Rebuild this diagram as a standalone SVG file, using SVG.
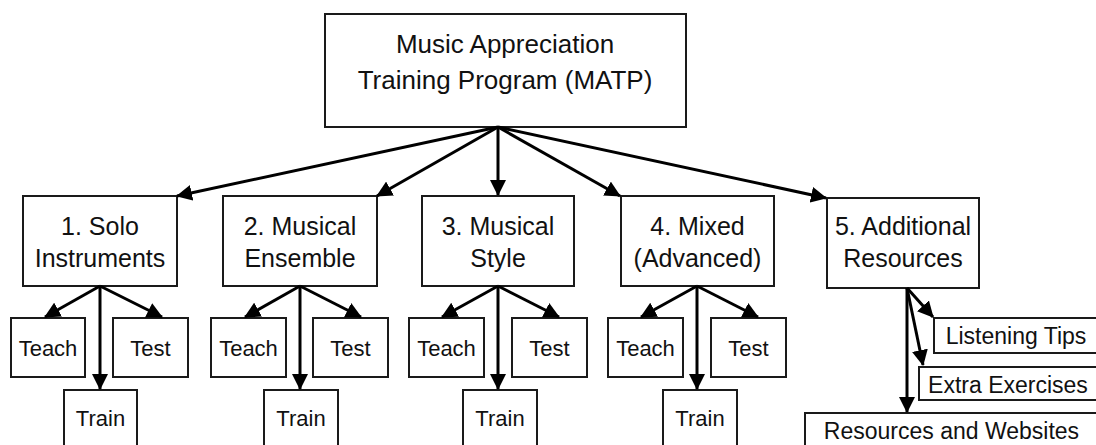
<svg xmlns="http://www.w3.org/2000/svg" width="1096" height="445" viewBox="0 0 1096 445">
<style>
.box{fill:#fff;stroke:#1a1a1a;stroke-width:2}
.t0{font-family:"Liberation Sans",Arial,sans-serif;font-size:26px;fill:#111;text-anchor:middle}
.t1{font-family:"Liberation Sans",Arial,sans-serif;font-size:25px;fill:#111;text-anchor:middle}
.t2{font-family:"Liberation Sans",Arial,sans-serif;font-size:22px;fill:#111;text-anchor:middle}
.t3{font-family:"Liberation Sans",Arial,sans-serif;font-size:23px;fill:#111;text-anchor:middle}
.c line{stroke:#000;stroke-width:3;marker-end:url(#ah)}
</style>
<defs>
<marker id="ah" markerUnits="userSpaceOnUse" markerWidth="16" markerHeight="16" refX="15" refY="8" orient="auto">
<path d="M0,0 L16,8 L0,16 z" fill="#000"/>
</marker>
</defs>
<rect width="1096" height="445" fill="#fff"/>
<g id="root"><rect class="box" x="325" y="14" width="361" height="113"/><text class="t0" x="505" y="53">Music Appreciation</text><text class="t0" x="505" y="89">Training Program (MATP)</text></g>
<g id="n1"><rect class="box" x="23" y="196" width="154" height="90"/><text class="t1" x="100" y="235">1. Solo</text><text class="t1" x="100" y="267">Instruments</text></g>
<g id="n2"><rect class="box" x="223" y="196" width="154" height="90"/><text class="t1" x="300" y="235">2. Musical</text><text class="t1" x="300" y="267">Ensemble</text></g>
<g id="n3"><rect class="box" x="422" y="196" width="152" height="90"/><text class="t1" x="498" y="235">3. Musical</text><text class="t1" x="498" y="267">Style</text></g>
<g id="n4"><rect class="box" x="621" y="196" width="153" height="90"/><text class="t1" x="697.5" y="235">4. Mixed</text><text class="t1" x="697.5" y="267">(Advanced)</text></g>
<g id="n5"><rect class="box" x="827" y="198" width="152" height="90"/><text class="t1" x="903" y="235">5. Additional</text><text class="t1" x="903" y="267">Resources</text></g>
<g id="n1a"><rect class="box" x="11" y="318" width="74" height="59"/><text class="t2" x="48" y="356">Teach</text></g>
<g id="n1b"><rect class="box" x="113" y="318" width="75" height="59"/><text class="t2" x="150.5" y="356">Test</text></g>
<g id="n1c"><rect class="box" x="64" y="390" width="73" height="62"/><text class="t2" x="100.5" y="426">Train</text></g>
<g id="n2a"><rect class="box" x="211" y="318" width="75" height="59"/><text class="t2" x="248.5" y="356">Teach</text></g>
<g id="n2b"><rect class="box" x="313" y="318" width="75" height="59"/><text class="t2" x="350.5" y="356">Test</text></g>
<g id="n2c"><rect class="box" x="264" y="390" width="74" height="62"/><text class="t2" x="301" y="426">Train</text></g>
<g id="n3a"><rect class="box" x="409" y="318" width="75" height="59"/><text class="t2" x="446.5" y="356">Teach</text></g>
<g id="n3b"><rect class="box" x="512" y="318" width="75" height="59"/><text class="t2" x="549.5" y="356">Test</text></g>
<g id="n3c"><rect class="box" x="463" y="390" width="74" height="62"/><text class="t2" x="500" y="426">Train</text></g>
<g id="n4a"><rect class="box" x="608" y="318" width="75" height="59"/><text class="t2" x="645.5" y="356">Teach</text></g>
<g id="n4b"><rect class="box" x="711" y="318" width="75" height="59"/><text class="t2" x="748.5" y="356">Test</text></g>
<g id="n4c"><rect class="box" x="663" y="390" width="74" height="62"/><text class="t2" x="700" y="426">Train</text></g>
<g id="n5a"><rect class="box" x="934" y="318" width="170" height="35"/><text class="t3" x="1016" y="344">Listening Tips</text></g>
<g id="n5b"><rect class="box" x="919" y="367" width="185" height="33"/><text class="t3" x="1008" y="393">Extra Exercises</text></g>
<g id="n5c"><rect class="box" x="805" y="413" width="299" height="40"/><text class="t3" x="951.5" y="439">Resources and Websites</text></g>
<g id="connectors" class="c">
<line x1="498" y1="127" x2="177" y2="196"/>
<line x1="498" y1="127" x2="377" y2="196"/>
<line x1="498" y1="127" x2="498" y2="195"/>
<line x1="498" y1="127" x2="620" y2="196"/>
<line x1="498" y1="127" x2="826" y2="198"/>
<line x1="100" y1="286" x2="45" y2="317"/>
<line x1="100" y1="286" x2="162" y2="317"/>
<line x1="100" y1="286" x2="100" y2="389"/>
<line x1="300" y1="286" x2="245" y2="317"/>
<line x1="300" y1="286" x2="361" y2="317"/>
<line x1="300" y1="286" x2="300" y2="389"/>
<line x1="498" y1="286" x2="442" y2="317"/>
<line x1="498" y1="286" x2="559" y2="317"/>
<line x1="498" y1="286" x2="498" y2="389"/>
<line x1="697" y1="286" x2="641" y2="317"/>
<line x1="697" y1="286" x2="758" y2="317"/>
<line x1="697" y1="286" x2="697" y2="389"/>
<line x1="907" y1="288" x2="933" y2="317"/>
<line x1="907" y1="288" x2="923" y2="365"/>
<line x1="907" y1="288" x2="907" y2="412"/>
</g>
</svg>
